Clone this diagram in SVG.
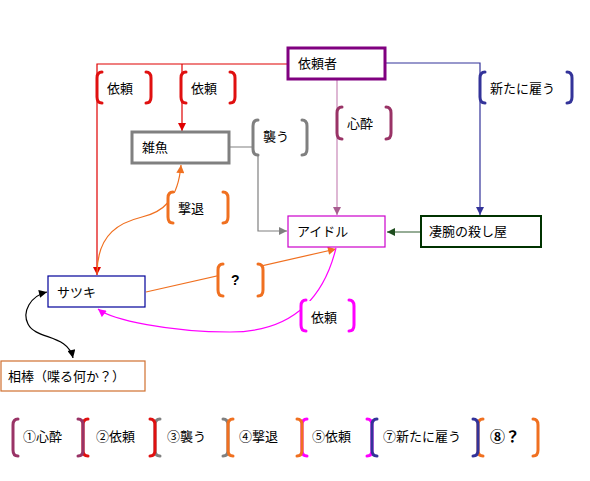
<svg xmlns="http://www.w3.org/2000/svg" width="590" height="481" viewBox="0 0 590 481">
<style>
text{font-family:"Noto Sans CJK JP","Liberation Sans",sans-serif;font-size:13px;fill:#000}
.br{fill:none;stroke-width:3;stroke-linecap:round}
.ln{fill:none;stroke-width:1.2}
.bg{fill:#fff;stroke:none}
</style>
<defs>
<marker id="aRed" viewBox="0 0 10 10" refX="10" refY="5" markerWidth="9" markerHeight="8" markerUnits="userSpaceOnUse" orient="auto"><path d="M0,0L10,5L0,10z" fill="#E00000"/></marker>
<marker id="aPink" viewBox="0 0 10 10" refX="10" refY="5" markerWidth="9" markerHeight="8" markerUnits="userSpaceOnUse" orient="auto"><path d="M0,0L10,5L0,10z" fill="#A85C90"/></marker>
<marker id="aNavy" viewBox="0 0 10 10" refX="10" refY="5" markerWidth="9" markerHeight="8" markerUnits="userSpaceOnUse" orient="auto"><path d="M0,0L10,5L0,10z" fill="#333399"/></marker>
<marker id="aGray" viewBox="0 0 10 10" refX="10" refY="5" markerWidth="9" markerHeight="8" markerUnits="userSpaceOnUse" orient="auto"><path d="M0,0L10,5L0,10z" fill="#808080"/></marker>
<marker id="aGreen" viewBox="0 0 10 10" refX="10" refY="5" markerWidth="9" markerHeight="8" markerUnits="userSpaceOnUse" orient="auto"><path d="M0,0L10,5L0,10z" fill="#1E4D1E"/></marker>
<marker id="aOrange" viewBox="0 0 10 10" refX="10" refY="5" markerWidth="9" markerHeight="8" markerUnits="userSpaceOnUse" orient="auto"><path d="M0,0L10,5L0,10z" fill="#F07020"/></marker>
<marker id="aMag" viewBox="0 0 10 10" refX="10" refY="5" markerWidth="9" markerHeight="8" markerUnits="userSpaceOnUse" orient="auto"><path d="M0,0L10,5L0,10z" fill="#FF00FF"/></marker>
<marker id="aBlack" viewBox="0 0 10 10" refX="10" refY="5" markerWidth="9" markerHeight="8" markerUnits="userSpaceOnUse" orient="auto-start-reverse"><path d="M0,0L10,5L0,10z" fill="#000"/></marker>
</defs>
<rect width="590" height="481" fill="#fff"/>
<g id="connectors">
<polyline class="ln" points="287,64 97,64 97,275" stroke="#E00000" marker-end="url(#aRed)"/>
<line class="ln" x1="182" y1="64" x2="182" y2="131" stroke="#E00000" marker-end="url(#aRed)"/>
<line class="ln" x1="337" y1="80" x2="337" y2="215" stroke="#C888B8" marker-end="url(#aPink)"/>
<polyline class="ln" points="386,63 480,63 480,215" stroke="#333399" marker-end="url(#aNavy)"/>
<polyline class="ln" points="230,147 258,147 258,231 287,231" stroke="#808080" marker-end="url(#aGray)"/>
<line class="ln" x1="421" y1="232" x2="387" y2="232" stroke="#2E5C2E" stroke-width="2" marker-end="url(#aGreen)"/>
<line class="ln" x1="146" y1="292" x2="336" y2="249" stroke="#F07020" marker-end="url(#aOrange)"/>
<path class="ln" d="M97,274 C97,232 122,222 142,217 C163,212 178,200 181,165" stroke="#F07020" marker-end="url(#aOrange)"/>
<path class="ln" d="M336,248 C322,305 285,332 230,332 C170,332 112,320 98,309" stroke="#FF00FF" marker-end="url(#aMag)"/>
<path class="ln" d="M47,292 C30,296 22,312 28,324 C36,340 68,334 73,358" stroke="#000" marker-start="url(#aBlack)" marker-end="url(#aBlack)"/>
</g>
<g id="labels">
<g id="lbl-irai1"><rect class="bg" x="98" y="73" width="52" height="29"/><path class="br" stroke="#E01010" d="M102,72Q97,72 97,78V97Q97,103 102,103M146,72Q151,72 151,78V97Q151,103 146,103"/><text x="107" y="93">依頼</text></g>
<g id="lbl-irai2"><rect class="bg" x="182" y="73" width="52" height="29"/><path class="br" stroke="#E01010" d="M186,72Q181,72 181,78V97Q181,103 186,103M230,72Q235,72 235,78V97Q235,103 230,103"/><text x="191" y="93">依頼</text></g>
<g id="lbl-yatou"><rect class="bg" x="481" y="73" width="90" height="29"/><path class="br" stroke="#333399" d="M485,72Q480,72 480,78V97Q480,103 485,103M567,72Q572,72 572,78V97Q572,103 567,103"/><text x="490" y="93">新たに雇う</text></g>
<g id="lbl-shinsui"><rect class="bg" x="338" y="108" width="52" height="30"/><path class="br" stroke="#993366" d="M342,107Q337,107 337,113V133Q337,139 342,139M386,107Q391,107 391,113V133Q391,139 386,139"/><text x="347" y="128">心酔</text></g>
<g id="lbl-osou"><rect class="bg" x="254" y="121" width="52" height="33"/><path class="br" stroke="#808080" d="M258,120Q253,120 253,126V149Q253,155 258,155M302,120Q307,120 307,126V149Q307,155 302,155"/><text x="263" y="141">襲う</text></g>
<g id="lbl-gekitai"><rect class="bg" x="169" y="193" width="58" height="29"/><path class="br" stroke="#F07020" d="M173,192Q168,192 168,198V217Q168,223 173,223M223,192Q228,192 228,198V217Q228,223 223,223"/><text x="178" y="213">撃退</text></g>
<g id="lbl-q"><rect class="bg" x="219" y="265" width="43" height="30"/><path class="br" stroke="#F07020" d="M223,264Q218,264 218,270V290Q218,296 223,296M258,264Q263,264 263,270V290Q263,296 258,296"/><text x="231" y="285" style="font-family:'Liberation Sans',sans-serif;font-size:14px;font-weight:bold">?</text></g>
<g id="lbl-irai3"><rect class="bg" x="302" y="301" width="51" height="29"/><path class="br" stroke="#FF00FF" d="M306,300Q301,300 301,306V325Q301,331 306,331M349,300Q354,300 354,306V325Q354,331 349,331"/><text x="311" y="322">依頼</text></g>
</g>
<g id="node-iraisha"><rect x="288" y="48" width="97" height="31" fill="#fff" stroke="#800080" stroke-width="3"/><text x="298" y="68">依頼者</text></g>
<g id="node-zako"><rect x="132" y="132" width="97" height="31" fill="#fff" stroke="#808080" stroke-width="3"/><text x="142" y="152">雑魚</text></g>
<g id="node-idol"><rect x="288" y="216" width="97" height="31" fill="#fff" stroke="#CC00CC" stroke-width="1.2"/><text x="297" y="236">アイドル</text></g>
<g id="node-killer"><rect x="421" y="216" width="120" height="31" fill="#fff" stroke="#003300" stroke-width="2"/><text x="429" y="236">凄腕の殺し屋</text></g>
<g id="node-satsuki"><rect x="48" y="276" width="97" height="31" fill="#fff" stroke="#000099" stroke-width="1.2"/><text x="57" y="297">サツキ</text></g>
<g id="node-aibou"><rect x="1" y="361" width="144" height="30" fill="#fff" stroke="#D07030" stroke-width="1.2"/><text x="8" y="381">相棒（喋る何か？）</text></g>
<g id="legend">
<path class="br" stroke="#993366" d="M18,419Q13,419 13,425V450Q13,456 18,456"/>
<path class="br" stroke="#E01010" d="M88,419Q83,419 83,425V450Q83,456 88,456"/>
<path class="br" stroke="#993366" d="M78,419Q83,419 83,425V450Q83,456 78,456"/>
<path class="br" stroke="#808080" d="M160,419Q155,419 155,425V450Q155,456 160,456"/>
<path class="br" stroke="#E01010" d="M150,419Q155,419 155,425V450Q155,456 150,456"/>
<path class="br" stroke="#808080" d="M223,419Q228,419 228,425V450Q228,456 223,456"/>
<path class="br" stroke="#F07020" d="M233,419Q228,419 228,425V450Q228,456 233,456"/>
<path class="br" stroke="#FF00FF" d="M307,419Q302,419 302,425V450Q302,456 307,456"/>
<path class="br" stroke="#F07020" d="M297,419Q302,419 302,425V450Q302,456 297,456"/>
<path class="br" stroke="#FF00FF" d="M367,419Q372,419 372,425V450Q372,456 367,456"/>
<path class="br" stroke="#333399" d="M377,419Q372,419 372,425V450Q372,456 377,456"/>
<path class="br" stroke="#F07020" d="M483,419Q478,419 478,425V450Q478,456 483,456"/>
<path class="br" stroke="#333399" d="M473,419Q478,419 478,425V450Q478,456 473,456"/>
<path class="br" stroke="#F07020" d="M533,419Q538,419 538,425V450Q538,456 533,456"/>
<text x="23" y="441">①心酔</text>
<text x="96" y="441">②依頼</text>
<text x="167" y="441">③襲う</text>
<text x="239" y="441">④撃退</text>
<text x="312" y="441">⑤依頼</text>
<text x="383" y="441">⑦新たに雇う</text>
<text x="490" y="442" style="font-size:15px;font-weight:bold">⑧？</text>
</g>
</svg>
